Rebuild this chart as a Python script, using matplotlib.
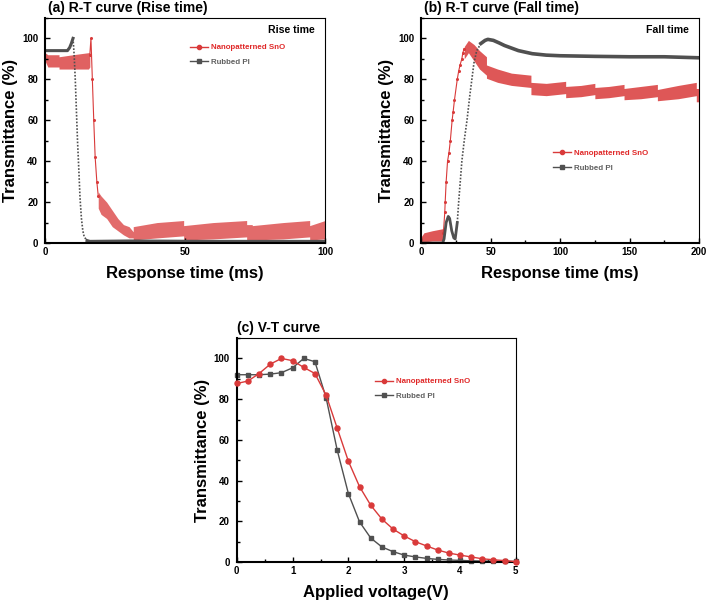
import matplotlib
matplotlib.use("Agg")
import matplotlib.pyplot as plt
from matplotlib.ticker import MultipleLocator

plt.rcParams['font.family'] = ['Liberation Sans', 'DejaVu Sans']
plt.rcParams['font.weight'] = 'bold'

RED = '#d93a3a'
GRAY = '#505050'

# ---------------- (a) R-T curve, rise time ----------------
a_pi_t = [0, 8, 8.8, 9.4, 10, 10.4, 10.8, 11.2, 11.6, 12, 12.5, 13, 13.5, 14, 15, 16, 30, 60, 100]
a_pi_T = [94, 94, 95.5, 97.5, 100, 92, 80, 65, 50, 38, 22, 12, 6, 3, 1.2, 0.8, 1, 0.8, 0.8]

# steep part of the SnO trace
a_sno_t = [16, 16.4, 16.9, 17.4, 17.9, 18.5, 19]
a_sno_T = [92, 100, 80, 60, 42, 30, 23]

# noisy parts of the SnO trace: lower / upper edge of the scatter
a_band1_t = [0, 1, 2, 5, 5, 10, 15.5, 16]
a_band1_lo = [89, 86, 86, 86, 85, 85, 85, 86]
a_band1_hi = [93, 92, 92, 92, 91, 92, 93, 93]

a_band2_t = [19, 20, 22, 24, 26, 28, 30, 31.5, 31.5, 40, 49.5, 49.5, 60, 72, 72, 74, 74, 85, 94.5, 94.5, 100]
a_band2_lo = [17, 14, 12, 8, 6, 4, 2.5, 2.5, 1.5, 2.5, 3.5, 1.5, 2, 3, 1.5, 1.5, 1.5, 2, 3, 1.5, 2]
a_band2_hi = [25, 23, 20, 16, 12, 9, 8, 5.5, 8, 10, 11, 8.5, 10, 11, 9, 9, 8.5, 10, 11, 8.5, 11]

# ---------------- (b) R-T curve, fall time ----------------
b_pi_t = [0, 15.5, 16.5, 18, 19.5, 20.5, 22, 23.5, 24.5, 26, 27, 29.3, 31, 33, 35, 36.5, 38, 40,
          43, 46, 48, 52, 56, 60, 70, 80, 90, 100, 125, 150, 175, 200]
b_pi_T = [0, 0, 2, 10, 13, 12, 6, 2.5, 2, 10, 20, 40, 50, 60, 72, 80, 88, 94,
          97.5, 99, 99.5, 99, 97.8, 96.5, 94, 92.5, 91.8, 91.5, 91.2, 91, 91, 90.5]

b_sno_t = [16, 17, 17.3, 18, 19, 20, 21, 22.3, 23, 24, 26, 27, 28, 29.3, 30, 31]
b_sno_T = [5, 15, 20, 30, 40, 44, 50, 60, 64, 70, 80, 84, 87, 90, 93, 95]

b_band1_t = [0, 2, 8, 15.5, 16]
b_band1_lo = [0, 0.5, 1, 1, 1]
b_band1_hi = [3, 5, 6, 7, 7]

b_band2_t = [31, 34, 38, 42, 47, 47, 55, 65, 79, 79, 90, 104, 104, 115, 125, 125,
             135, 146, 146, 158, 170, 170, 185, 198, 198, 200]
b_band2_lo = [90, 93, 89, 85, 82, 80.5, 78.5, 77, 76, 72.5, 72, 73, 71, 71.5, 72.5, 70.5,
              71, 72, 70, 70.5, 71.5, 69.5, 70.5, 72, 69, 69]
b_band2_hi = [96, 99, 97, 94, 91, 87, 85, 83, 82, 78.5, 78, 79, 76.5, 77, 78, 76,
              76.5, 77.5, 75.5, 76.5, 77.5, 75, 77, 78.5, 75.5, 75.5]

# ---------------- (c) V-T curve ----------------
voltage = [0, 0.2, 0.4, 0.6, 0.8, 1.0, 1.2, 1.4, 1.6, 1.8, 2.0, 2.2, 2.4,
           2.6, 2.8, 3.0, 3.2, 3.4, 3.6, 3.8, 4.0, 4.2, 4.4, 4.6, 4.8, 5.0]
vt_sno = [87.7, 88.9, 92.6, 97.2, 100, 98.9, 95.6, 92.6, 82, 65.7, 49.5, 37, 27.9,
          21.1, 16.2, 12.8, 10, 7.9, 5.9, 4.4, 3.4, 2.5, 1.6, 1.1, 0.7, 0.2]
vt_pi = [92, 92, 92, 92.3, 93, 95.4, 100, 98.4, 80.7, 54.9, 33.6, 19.7, 11.8,
         7.4, 5.1, 3.4, 2.5, 1.8, 1.3, 1.0, 0.8, 0.6, 0.5, 0.4, 0.3, 0.3]

LABELS = ['Nanopatterned SnO', 'Rubbed PI']


def style_axes(ax, xmax, xmajor, xminor, xlabel):
    ax.set_xlim(0, xmax)
    ax.set_ylim(0, 110)
    ax.xaxis.set_major_locator(MultipleLocator(xmajor))
    ax.xaxis.set_minor_locator(MultipleLocator(xminor))
    ax.yaxis.set_minor_locator(MultipleLocator(10))
    ax.set_yticks([0, 20, 40, 60, 80, 100])
    ax.tick_params(which='both', direction='in', top=False, right=False,
                   labelsize=7, width=1.0)
    ax.tick_params(which='major', length=3.5)
    ax.tick_params(axis='x', which='major', pad=3)
    ax.tick_params(axis='y', which='major', pad=5)
    ax.tick_params(which='minor', length=2)
    for lab in ax.get_xticklabels() + ax.get_yticklabels():
        lab.set_fontweight('bold')
    for s in ['left', 'bottom']:
        ax.spines[s].set_linewidth(1.5)
    for s in ['top', 'right']:
        ax.spines[s].set_linewidth(0.8)
    ax.set_xlabel(xlabel, fontsize=12, fontweight='bold', labelpad=6)
    ax.set_ylabel('Transmittance (%)', fontsize=12, fontweight='bold', labelpad=3)


def add_legend(ax, x, y):
    h1, = ax.plot([], [], color=RED, marker='o', ms=3, lw=1)
    h2, = ax.plot([], [], color=GRAY, marker='s', ms=3, lw=1)
    leg = ax.legend([h1, h2], LABELS, loc='upper left', bbox_to_anchor=(x, y),
                    frameon=False, fontsize=5.7, handlelength=2.3,
                    handletextpad=0.4, labelspacing=0.9, borderaxespad=0, borderpad=0)
    leg.get_texts()[0].set_color('#e02828')
    leg.get_texts()[1].set_color('#606060')
    for t in leg.get_texts():
        t.set_fontweight('bold')


fig = plt.figure(figsize=(7.09, 6.02), dpi=100)
ax_a = fig.add_axes([0.0635, 0.5963, 0.395, 0.374])
ax_b = fig.add_axes([0.594, 0.5963, 0.392, 0.374])
ax_c = fig.add_axes([0.334, 0.0664, 0.3935, 0.372])

# (a)
ax_a.fill_between(a_band1_t, a_band1_lo, a_band1_hi, color=RED, alpha=0.8, lw=0)
ax_a.fill_between(a_band2_t, a_band2_lo, a_band2_hi, color=RED, alpha=0.75, lw=0)
ax_a.plot(a_sno_t, a_sno_T, color=RED, lw=0.8, marker='o', ms=1.2)
ax_a.plot(a_pi_t[:5], a_pi_T[:5], color=GRAY, lw=2.2)
ax_a.plot(a_pi_t[4:15], a_pi_T[4:15], color=GRAY, lw=1.2, ls=(0, (1, 1)))
ax_a.plot(a_pi_t[14:], a_pi_T[14:], color=GRAY, lw=2.2)
style_axes(ax_a, 100, 50, 25, 'Response time (ms)')
add_legend(ax_a, 0.518, 0.885)
ax_a.text(0.964, 0.947, 'Rise time', transform=ax_a.transAxes, ha='right', va='center',
          fontsize=7.6, fontweight='bold')
ax_a.text(0.01, 1.015, '(a) R-T curve (Rise time)', transform=ax_a.transAxes,
          ha='left', va='bottom', fontsize=10, fontweight='bold')

# (b)
ax_b.fill_between(b_band1_t, b_band1_lo, b_band1_hi, color=RED, alpha=0.85, lw=0)
ax_b.fill_between(b_band2_t, b_band2_lo, b_band2_hi, color=RED, alpha=0.85, lw=0)
ax_b.plot(b_sno_t, b_sno_T, color=RED, lw=0.8, marker='o', ms=1.2)
ax_b.plot(b_pi_t[:10], b_pi_T[:10], color=GRAY, lw=2.0)
ax_b.plot(b_pi_t[9:19], b_pi_T[9:19], color=GRAY, lw=1.2, ls=(0, (1, 1)))
ax_b.plot(b_pi_t[18:], b_pi_T[18:], color=GRAY, lw=2.6)
style_axes(ax_b, 200, 50, 25, 'Response time (ms)')
add_legend(ax_b, 0.474, 0.415)
ax_b.text(0.965, 0.947, 'Fall time', transform=ax_b.transAxes, ha='right', va='center',
          fontsize=7.6, fontweight='bold')
ax_b.text(0.01, 1.015, '(b) R-T curve (Fall time)', transform=ax_b.transAxes,
          ha='left', va='bottom', fontsize=10, fontweight='bold')

# (c)
ax_c.plot(voltage, vt_sno, color=RED, lw=1.0, marker='o', ms=3.6, clip_on=False, zorder=3)
ax_c.plot(voltage, vt_pi, color=GRAY, lw=1.0, marker='s', ms=3.3, clip_on=False, zorder=2)
style_axes(ax_c, 5, 1, 0.5, 'Applied voltage(V)')
add_legend(ax_c, 0.495, 0.822)
ax_c.text(0.0, 1.015, '(c) V-T curve', transform=ax_c.transAxes,
          ha='left', va='bottom', fontsize=10, fontweight='bold')

fig.savefig('out.png', dpi=100)
